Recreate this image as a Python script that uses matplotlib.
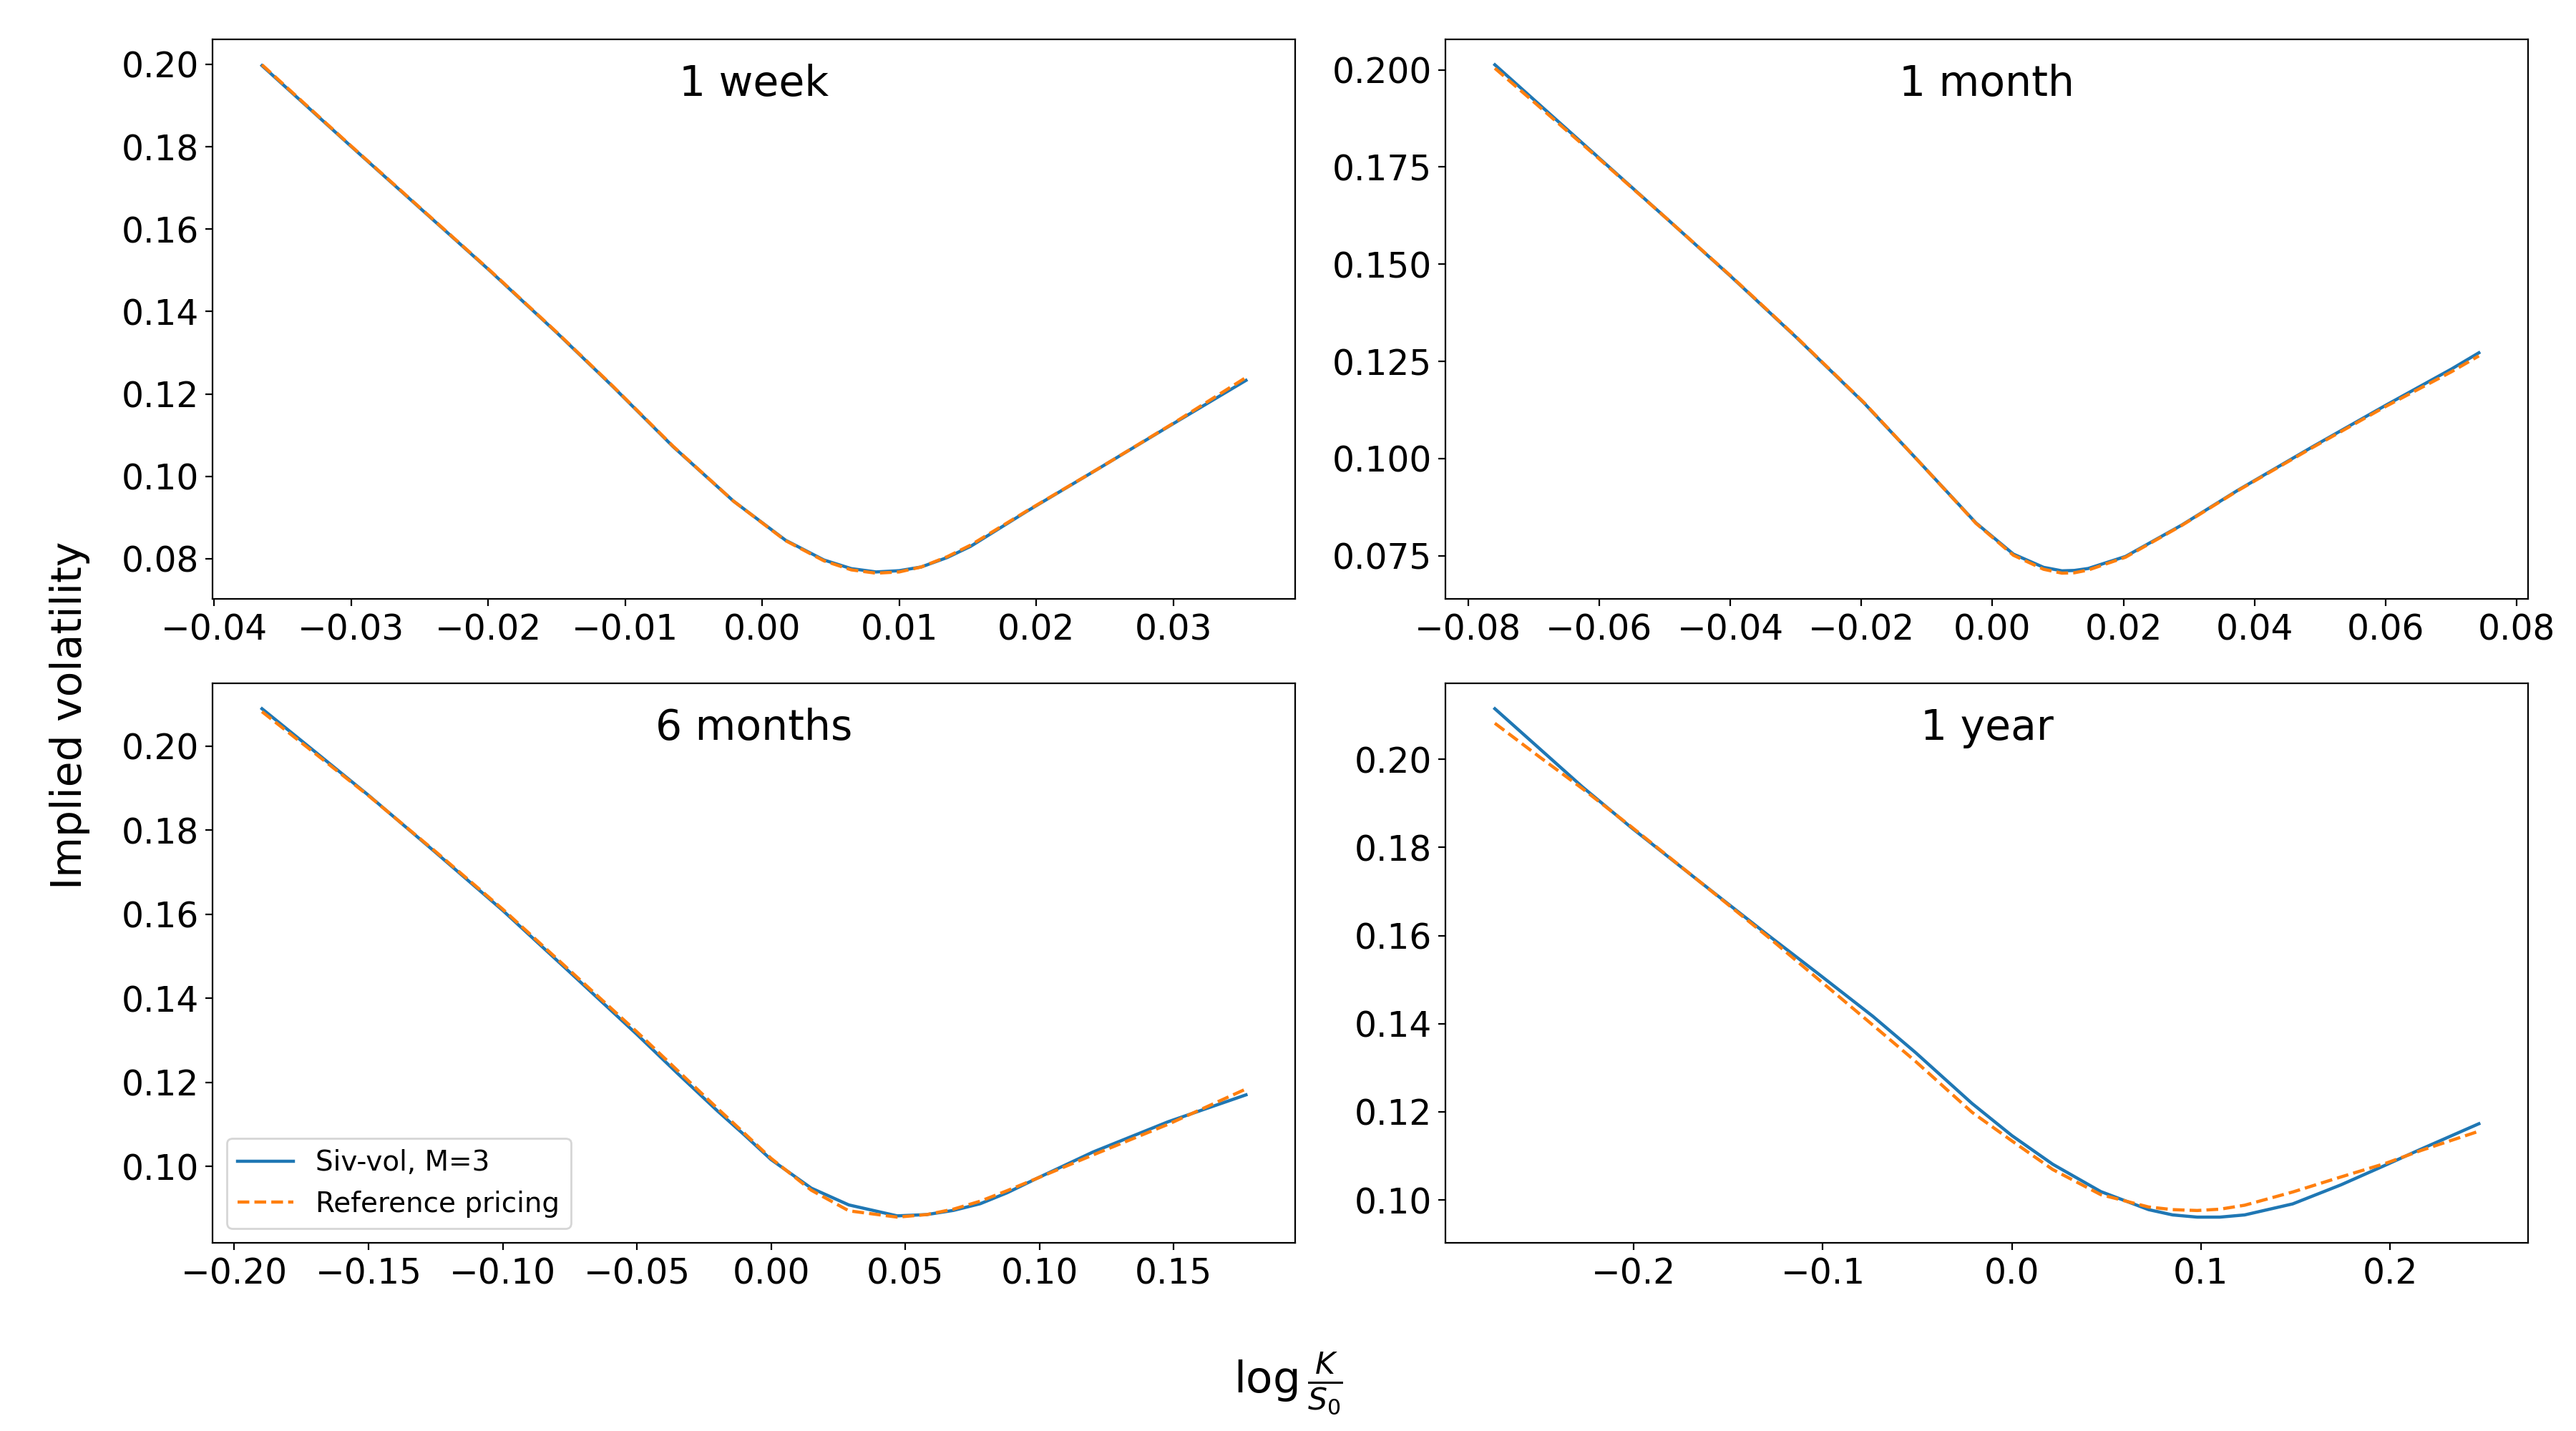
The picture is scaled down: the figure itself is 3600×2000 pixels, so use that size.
import matplotlib
matplotlib.use('Agg')
import matplotlib.pyplot as plt
from matplotlib.ticker import MultipleLocator, FormatStrFormatter

# maturities shown in the four panels
titles = ['1 week', '1 month', '6 months', '1 year']

# log-moneyness grid and implied vols for each maturity
x_1w = [-0.0365, -0.030, -0.025, -0.020, -0.015, -0.0109, -0.0065, -0.0021, 0.0017, 0.0045,
        0.0065, 0.0083, 0.010, 0.0116, 0.0135, 0.0152, 0.0193, 0.0248, 0.030, 0.0353]
siv_1w = [0.1997, 0.1801, 0.1652, 0.1503, 0.1349, 0.1218, 0.1072, 0.0940, 0.0845, 0.0797,
          0.0776, 0.0768, 0.0771, 0.0780, 0.0803, 0.0830, 0.0915, 0.1024, 0.1128, 0.1233]
ref_1w = [0.1999, 0.1802, 0.1653, 0.1504, 0.1350, 0.1219, 0.1073, 0.0940, 0.0844, 0.0795,
          0.0773, 0.0765, 0.0768, 0.0780, 0.0805, 0.0833, 0.0916, 0.1024, 0.1129, 0.1240]

x_1m = [-0.0759, -0.070, -0.060, -0.050, -0.040, -0.030, -0.0196, -0.0111, -0.0025, 0.0032,
        0.0078, 0.0106, 0.0125, 0.0146, 0.0203, 0.0289, 0.0374, 0.0488, 0.060, 0.070, 0.0742]
siv_1m = [0.2013, 0.1924, 0.1773, 0.1622, 0.1470, 0.1313, 0.1143, 0.0990, 0.0834, 0.0754,
          0.0720, 0.0711, 0.0712, 0.0717, 0.0748, 0.0829, 0.0918, 0.1030, 0.1137, 0.1230, 0.1272]
ref_1m = [0.2004, 0.1918, 0.1771, 0.1622, 0.1471, 0.1314, 0.1144, 0.0990, 0.0833, 0.0751,
          0.0715, 0.0705, 0.0706, 0.0713, 0.0746, 0.0828, 0.0917, 0.1028, 0.1134, 0.1223, 0.1264]

x_6m = [-0.1897, -0.170, -0.150, -0.125, -0.100, -0.075, -0.050, -0.035, -0.020, -0.010, 0.000,
        0.015, 0.029, 0.047, 0.058, 0.068, 0.078, 0.088, 0.099, 0.120, 0.148, 0.177]
siv_6m = [0.2089, 0.1987, 0.1883, 0.1747, 0.1609, 0.1462, 0.1314, 0.1222, 0.1132, 0.1075, 0.1016,
          0.0948, 0.0908, 0.0882, 0.0885, 0.0895, 0.0911, 0.0937, 0.0971, 0.1034, 0.1106, 0.1170]
ref_6m = [0.2082, 0.1983, 0.1882, 0.1749, 0.1612, 0.1466, 0.1320, 0.1229, 0.1138, 0.1079, 0.1019,
          0.0943, 0.0894, 0.0879, 0.0885, 0.0898, 0.0917, 0.0942, 0.0971, 0.1027, 0.1100, 0.1184]

x_1y = [-0.2735, -0.250, -0.2273, -0.201, -0.165, -0.129, -0.1035, -0.0736, -0.0511, -0.0211,
        0.000, 0.0216, 0.047, 0.0723, 0.085, 0.098, 0.110, 0.1231, 0.1485, 0.1739, 0.1976,
        0.2162, 0.247]
siv_1y = [0.2115, 0.2025, 0.1938, 0.1844, 0.1722, 0.1601, 0.1517, 0.1417, 0.1335, 0.1219,
          0.1146, 0.1081, 0.1019, 0.0978, 0.0966, 0.0961, 0.0961, 0.0966, 0.0991, 0.1034, 0.1079,
          0.1115, 0.1173]
ref_1y = [0.2082, 0.2006, 0.1934, 0.1846, 0.1722, 0.1597, 0.1505, 0.1397, 0.1315, 0.1199,
          0.1134, 0.1069, 0.1012, 0.0984, 0.0978, 0.0976, 0.0979, 0.0988, 0.1018, 0.1052, 0.1083,
          0.1112, 0.1156]

xs = [x_1w, x_1m, x_6m, x_1y]
sivs = [siv_1w, siv_1m, siv_6m, siv_1y]
refs = [ref_1w, ref_1m, ref_6m, ref_1y]

fig, axes = plt.subplots(2, 2, figsize=(18, 10))
fig.subplots_adjust(left=0.0826, right=0.9814, top=0.9725, bottom=0.1317,
                    wspace=0.139, hspace=0.1515)

for i, ax in enumerate(axes.flat):
    ax.plot(xs[i], sivs[i], color='tab:blue', lw=1.6, label='Siv-vol, M=3')
    ax.plot(xs[i], refs[i], color='tab:orange', lw=1.6, ls='--', label='Reference pricing')
    ax.text(0.5, 0.92, titles[i], transform=ax.transAxes, ha='center', va='center', fontsize=21)
    ax.tick_params(labelsize=17.5)

# the 1 month panel uses 0.025 steps with three decimals
axes[0, 1].yaxis.set_major_locator(MultipleLocator(0.025))
axes[0, 1].yaxis.set_major_formatter(FormatStrFormatter('%.3f'))

# legend only in the 6 months panel
axes[1, 0].legend(loc='lower left', fontsize=14)

# shared axis labels
fig.text(0.5, 0.033, r'$\log\frac{K}{S_0}$', ha='center', va='center', fontsize=22)
fig.text(0.027, 0.5, 'Implied volatility', rotation=90, ha='center', va='center', fontsize=21)

fig.savefig('out.png', dpi=200)
